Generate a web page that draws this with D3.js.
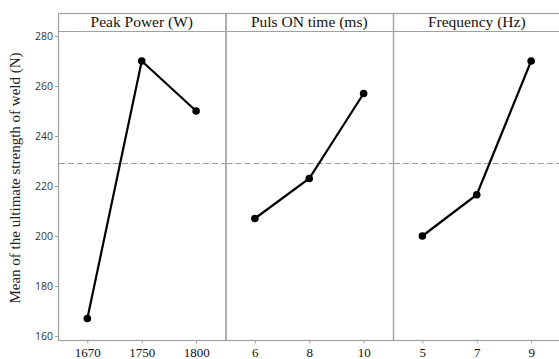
<!DOCTYPE html>
<html>
<head>
<meta charset="utf-8">
<script src="https://cdn.jsdelivr.net/npm/d3@7"></script>
<style>
  body { margin: 0; background: #fff; }
  svg { display: block; }
  .serif { font-family: "Liberation Serif", "DejaVu Serif", "Times New Roman", serif; }
  .sans { font-family: "Open Sans", "DejaVu Sans", sans-serif; }
</style>
</head>
<body>
<div id="chart"></div>
<script>
// factor panels
const panelTitles = ['Peak Power (W)', 'Puls ON time (ms)', 'Frequency (Hz)'];
const levels = [['1670', '1750', '1800'], ['6', '8', '10'], ['5', '7', '9']];
const means = [[167, 270, 250], [207, 223, 257], [200, 216.5, 270]];
const grandMean = 229;
const yTicks = [160, 180, 200, 220, 240, 260, 280];
const yLabel = 'Mean of the ultimate strength of weld (N)';

const width = 559, height = 359;
const marginLeft = 58, frameTop = 13, headerH = 18, frameBottom = 340;
const panelW = 167.5;
const frameColor = '#a0a0a0';

const svg = d3.select('#chart').append('svg')
    .attr('width', width)
    .attr('height', height);

const y = d3.scaleLinear()
    .domain([160, 280])
    .range([336, 36]);

// y axis
const yAxis = d3.axisLeft(y).tickValues(yTicks).tickSize(3).tickFormat(d3.format('d'));
const ya = svg.append('g')
    .attr('transform', `translate(${marginLeft},0)`)
    .call(yAxis)
    .attr('font-family', null);
ya.select('.domain').remove();
ya.selectAll('line').attr('stroke', frameColor);
ya.selectAll('text')
    .attr('class', 'sans')
    .style('font-size', '10.5px')
    .attr('fill', '#333')
    .attr('x', -5);

svg.append('text')
    .attr('class', 'serif')
    .attr('transform', `translate(20,178) rotate(-90)`)
    .attr('text-anchor', 'middle')
    .style('font-size', '15px')
    .attr('fill', '#222')
    .text(yLabel);

panelTitles.forEach((title, p) => {
    const x0 = marginLeft + p * panelW;
    const g = svg.append('g').attr('transform', `translate(${x0},0)`);

    const x = d3.scalePoint()
        .domain(levels[p])
        .range([0, panelW])
        .padding(0.54);

    // frame
    g.append('rect')
        .attr('x', 0.5).attr('y', frameTop + 0.5)
        .attr('width', panelW).attr('height', frameBottom - frameTop)
        .attr('fill', 'none')
        .attr('stroke', frameColor)
        .attr('stroke-width', 1.2);
    g.append('line')
        .attr('x1', 0).attr('x2', panelW)
        .attr('y1', frameTop + headerH + 0.5).attr('y2', frameTop + headerH + 0.5)
        .attr('stroke', frameColor)
        .attr('stroke-width', 1.2);

    g.append('text')
        .attr('class', 'serif')
        .attr('x', panelW / 2)
        .attr('y', frameTop + headerH - 4)
        .attr('text-anchor', 'middle')
        .style('font-size', '15.5px')
        .attr('fill', '#111')
        .text(title);

    // x axis
    const xa = g.append('g')
        .attr('transform', `translate(0,${frameBottom + 0.5})`)
        .call(d3.axisBottom(x).tickSize(3))
        .attr('font-family', null);
    xa.select('.domain').remove();
    xa.selectAll('line').attr('stroke', frameColor);
    xa.selectAll('text')
        .attr('class', 'serif')
        .style('font-size', '13px')
        .attr('fill', '#111')
        .attr('y', 7);

    // grand mean reference
    g.append('line')
        .attr('x1', 1).attr('x2', panelW)
        .attr('y1', y(grandMean)).attr('y2', y(grandMean))
        .attr('stroke', '#9a9a9a')
        .attr('stroke-width', 1)
        .attr('stroke-dasharray', '6,3');

    const pts = levels[p].map((l, i) => ({ l, v: means[p][i] }));

    g.append('path')
        .datum(pts)
        .attr('fill', 'none')
        .attr('stroke', '#000')
        .attr('stroke-width', 2.2)
        .attr('d', d3.line().x(d => x(d.l)).y(d => y(d.v)));

    g.selectAll('circle')
        .data(pts)
        .join('circle')
        .attr('cx', d => x(d.l))
        .attr('cy', d => y(d.v))
        .attr('r', 3.8)
        .attr('fill', '#000');
});
</script>
</body>
</html>
